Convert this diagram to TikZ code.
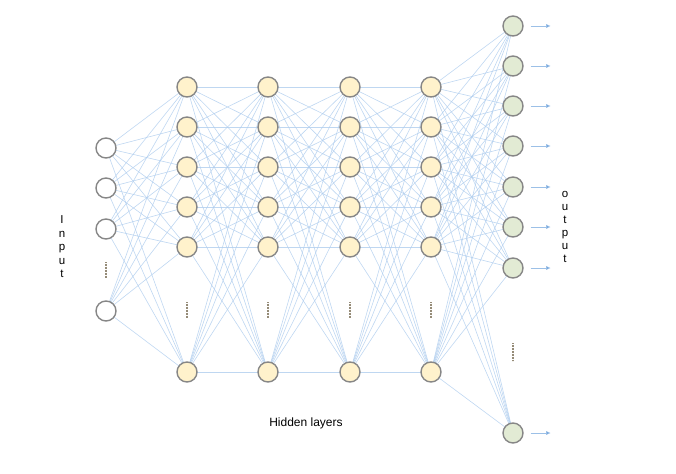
\documentclass[tikz,border=0pt]{standalone}
\usepackage{fontspec}
\setmainfont{Liberation Sans}
\usetikzlibrary{arrows.meta}
\definecolor{edgeblue}{RGB}{175,205,238}
\definecolor{arrblue}{RGB}{90,150,215}
\definecolor{hidfill}{RGB}{255,242,204}
\definecolor{outfill}{RGB}{226,235,212}
\definecolor{ringgray}{RGB}{135,135,135}
\definecolor{dotcol}{RGB}{150,140,120}
\tikzset{
  neuron/.style={circle,draw=ringgray,line width=1.4pt,minimum size=20pt,inner sep=0pt},
  innode/.style={neuron,fill=white},
  hidnode/.style={neuron,fill=hidfill},
  outnode/.style={neuron,fill=outfill},
  link/.style={draw=edgeblue,line width=0.6pt,opacity=0.8},
  outarrow/.style={draw=arrblue!60,line width=0.6pt,-{Latex[length=4.5pt,width=4pt,fill=arrblue]}},
  vdots/.style={draw=dotcol,line width=1.6pt,dash pattern=on 0.6pt off 0.9pt},
  lbl/.style={font=\fontsize{11.5}{13}\selectfont,inner sep=0pt}
}
\begin{document}
\begin{tikzpicture}[x=1pt,y=-1pt]
\useasboundingbox (0,0) rectangle (676,473);
% coordinates
\foreach \i/\y in {1/148,2/188,3/229,4/311} {\coordinate (I\i) at (106,\y);}
\foreach \l/\x in {1/187,2/268,3/350,4/431} {
  \foreach \i/\y in {1/87,2/127,3/167,4/207,5/247,6/372} {\coordinate (H\l-\i) at (\x,\y);}
}
\foreach \i/\y in {1/26,2/66,3/106,4/146,5/187,6/227,7/268,8/433} {\coordinate (O\i) at (513,\y);}
% edges
\foreach \a in {1,...,4} {\foreach \b in {1,...,6} {\draw[link] (I\a) -- (H1-\b);}}
\foreach \l/\m in {1/2,2/3,3/4} {
  \foreach \a in {1,...,6} {\foreach \b in {1,...,6} {\draw[link] (H\l-\a) -- (H\m-\b);}}
}
\foreach \a in {1,...,6} {\foreach \b in {1,...,8} {\draw[link] (H4-\a) -- (O\b);}}
% nodes
\foreach \i in {1,...,4} {\node[innode] (in\i) at (I\i) {};}
\foreach \l in {1,...,4} {\foreach \i in {1,...,6} {\node[hidnode] (h\l-\i) at (H\l-\i) {};}}
\foreach \i in {1,...,8} {\node[outnode] (out\i) at (O\i) {};}
\foreach \i in {1,...,8} {
  \path (out\i.east) ++(7,0) coordinate (t\i);
  \path (t\i) ++(20,0) coordinate (u\i);
  \draw[outarrow] (t\i) -- (u\i);
}
% dots
\coordinate (di1) at (106,262); \coordinate (di2) at (106,278);
\draw[vdots] (di1) -- (di2);
\foreach \x [count=\k] in {187,268,350,431} {
  \coordinate (dh\k a) at (\x,302); \coordinate (dh\k b) at (\x,318);
  \draw[vdots] (dh\k a) -- (dh\k b);
}
\coordinate (do1) at (513,343); \coordinate (do2) at (513,361);
\draw[vdots] (do1) -- (do2);
% labels
\node[lbl,align=center] (inlbl) at (62,247) {I\\[0.5pt]n\\[0.5pt]p\\[0.5pt]u\\[0.5pt]t};
\node[lbl,align=center] (outlbl) at (565,227) {o\\[0pt]u\\[0pt]t\\[0pt]p\\[0pt]u\\[0pt]t};
\node[lbl,font=\fontsize{12}{14}\selectfont] (hid) at (306,423) {Hidden layers};
\end{tikzpicture}
\end{document}
